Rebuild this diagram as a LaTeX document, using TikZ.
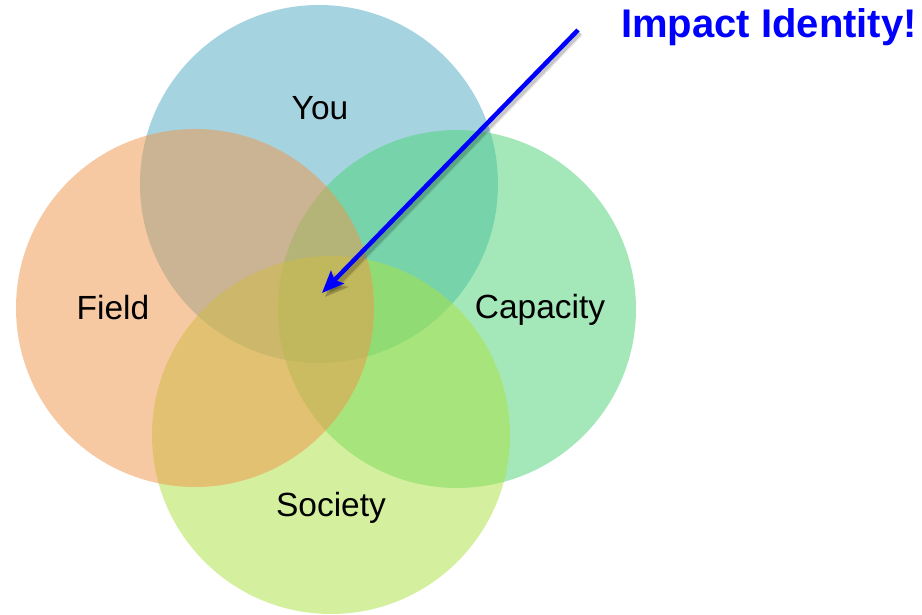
\documentclass[tikz,border=0pt]{standalone}
\usepackage{fontspec}
\setmainfont{Liberation Sans}
\usetikzlibrary{arrows.meta}
\definecolor{cyou}{RGB}{77,171,195}
\definecolor{ccap}{RGB}{75,211,117}
\definecolor{csoc}{RGB}{171,227,65}
\definecolor{cfield}{RGB}{241,149,71}
\definecolor{arrowblue}{RGB}{0,0,255}
\tikzset{
  venn/.style={circle, minimum size=358pt, inner sep=0pt, draw=none, fill opacity=0.5},
  lbl/.style={font=\fontsize{33.5}{40}\selectfont, text=black},
}
\begin{document}
\begin{tikzpicture}[x=1pt,y=-1pt]
\useasboundingbox[fill=white] (0,0) rectangle (922,614);
\node[venn, fill=cyou] (you) at (319,184) {};
\node[venn, fill=ccap] (cap) at (457,309) {};
\node[venn, fill=csoc] (soc) at (331,435) {};
\node[venn, fill=cfield] (field) at (195,308) {};
\node[lbl] (lyou) at (320,108) {You};
\node[lbl] (lfield) at (113,308) {Field};
\node[lbl] (lcap) at (540,310) {Capacity};
\node[lbl] (lsoc) at (331,508) {Society};
\node[font=\bfseries\fontsize{40}{48}\selectfont, text=arrowblue, anchor=base west, inner sep=0pt] (title) at (621,37) {Impact Identity!};
\coordinate (a0) at (578,30);
\coordinate (a1) at (322,293);
\coordinate (s0) at (580,33);
\coordinate (s1) at (325,297);
\draw[line width=7pt, black, opacity=0.08, -{Stealth[length=24pt,width=20pt,inset=4pt]}] (s0) -- (s1);
\draw[line width=4.5pt, black, opacity=0.15, -{Stealth[length=22pt,width=18pt,inset=4pt]}] (s0) -- (s1);
\draw[line width=4.5pt, arrowblue, -{Stealth[length=22pt,width=18pt,inset=4pt]}] (a0) -- (a1);
\end{tikzpicture}
\end{document}
